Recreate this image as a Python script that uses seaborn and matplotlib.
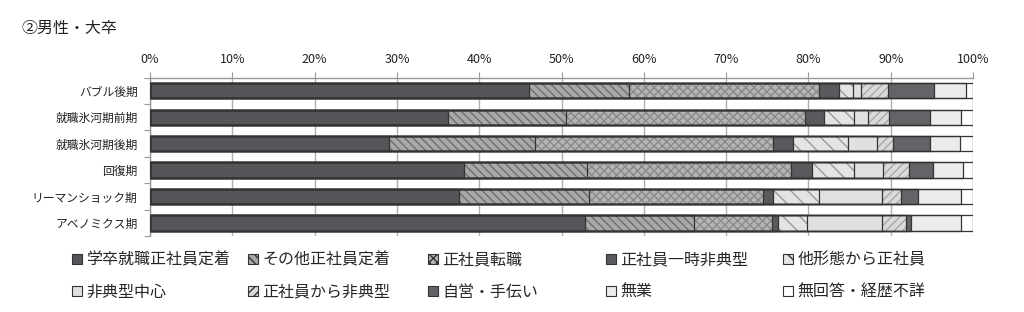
import matplotlib
matplotlib.use("Agg")
import matplotlib.pyplot as plt
import seaborn as sns
import numpy as np
import pandas as pd
from matplotlib.patches import Patch

periods = ["バブル後期", "就職氷河期前期", "就職氷河期後期", "回復期", "リーマンショック期", "アベノミクス期"]
series_names = ["学卒就職正社員定着", "その他正社員定着", "正社員転職", "正社員一時非典型", "他形態から正社員",
                "非典型中心", "正社員から非典型", "自営・手伝い", "無業", "無回答・経歴不詳"]

s_gakusotsu = [46.0, 36.2, 29.0, 38.2, 37.5, 52.9]
s_sonota = [12.2, 14.3, 17.8, 14.9, 15.9, 13.2]
s_tenshoku = [23.1, 29.1, 28.9, 24.8, 21.1, 9.5]
s_ichiji = [2.4, 2.3, 2.4, 2.5, 1.2, 0.7]
s_takeitai = [1.7, 3.6, 6.7, 5.2, 5.6, 3.5]
s_hitenkei = [1.0, 1.7, 3.5, 3.5, 7.7, 9.2]
s_seitohi = [3.3, 2.6, 2.0, 3.1, 2.3, 2.8]
s_jiei = [5.6, 5.0, 4.5, 3.0, 2.0, 0.7]
s_mugyo = [3.8, 3.7, 3.6, 3.6, 5.2, 6.1]
s_mukaito = [0.9, 1.5, 1.6, 1.2, 1.5, 1.4]

all_series = [s_gakusotsu, s_sonota, s_tenshoku, s_ichiji, s_takeitai,
              s_hitenkei, s_seitohi, s_jiei, s_mugyo, s_mukaito]

x_ticks = list(range(0, 101, 10))
x_ticklabels = [f"{t}%" for t in x_ticks]

styles = [
    dict(face="#56565a", hatch=None, hc="#56565a"),
    dict(face="#a8a8a8", hatch="\\\\\\\\", hc="#6e6e6e"),
    dict(face="#b4b4b4", hatch="xxxx", hc="#8a8a8a"),
    dict(face="#5a5a5e", hatch=None, hc="#5a5a5e"),
    dict(face="#e4e4e4", hatch="\\\\", hc="#9a9a9a"),
    dict(face="#e0e0e0", hatch=None, hc="#e0e0e0"),
    dict(face="#dadada", hatch="////", hc="#a8a8a8"),
    dict(face="#646468", hatch=None, hc="#646468"),
    dict(face="#ececec", hatch=None, hc="#ececec"),
    dict(face="#ffffff", hatch=None, hc="#ffffff"),
]

sns.set_theme(style="white")
plt.rcParams['font.family'] = ['Noto Sans CJK JP', 'DejaVu Sans']
plt.rcParams['hatch.linewidth'] = 1.0

fig = plt.figure(figsize=(10.24, 3.12), dpi=100)
ax = fig.add_axes([150 / 1024, 1 - 236.2 / 312, 823 / 1024, 158.7 / 312])

# cumulative totals for stacking
cums = np.cumsum(np.array(all_series), axis=0)
n = len(series_names)

# fills: widest cumulative first, narrower ones on top
for k in range(n - 1, -1, -1):
    st = styles[k]
    d = pd.DataFrame({"period": periods, "value": cums[k]})
    sns.barplot(data=d, y="period", x="value", orient="h", ax=ax,
                color=st["face"], saturation=1, width=0.58,
                edgecolor=st["hc"], linewidth=0, hatch=st["hatch"],
                zorder=3 + (n - k) * 0.01, errorbar=None)
# outlines: each cumulative bar's right edge is a segment boundary
for k in range(n - 1, -1, -1):
    d = pd.DataFrame({"period": periods, "value": cums[k]})
    sns.barplot(data=d, y="period", x="value", orient="h", ax=ax,
                facecolor="none", width=0.58,
                edgecolor="#333333", linewidth=0.9, zorder=4, errorbar=None)

ax.set_xlim(0, 100)
ax.set_ylim(5.5, -0.5)
ax.set_xlabel("")
ax.set_ylabel("")
ax.xaxis.tick_top()
ax.set_xticks(x_ticks)
ax.set_xticklabels(x_ticklabels, fontsize=9, color="#222222")
ax.tick_params(axis="x", top=True, bottom=False, length=4, width=0.8, color="#999999", pad=4)
ax.set_yticks(range(len(periods)))
ax.set_yticklabels(periods, fontsize=8.5, color="#222222")
ax.set_yticks(np.arange(-0.5, 5.6, 1.0), minor=True)
ax.tick_params(axis="y", which="major", length=0, pad=9)
ax.tick_params(axis="y", which="minor", left=True, length=4, width=0.8, color="#999999")
ax.grid(axis="x", color="#b0b0b0", linewidth=1.0, zorder=0)
ax.set_axisbelow(True)
for side in ["bottom", "right"]:
    ax.spines[side].set_visible(False)
for side in ["top", "left"]:
    ax.spines[side].set_color("#999999")
    ax.spines[side].set_linewidth(1.0)

fig.text(22 / 1024, 1 - 28 / 312, "②男性・大卒", fontsize=11.5, va="center", ha="left", color="#222222")

# Legend: five columns, each with two entries
col_x = [72, 248, 428, 606, 783]
for c in range(5):
    handles = []
    labels = []
    for i in (c, c + 5):
        st = styles[i]
        h = Patch(facecolor=st["face"], edgecolor=st["hc"], hatch=st["hatch"], linewidth=0)
        handles.append(h)
        labels.append(series_names[i])
    leg = fig.legend(handles, labels, loc="upper left",
                     bbox_to_anchor=(col_x[c] / 1024, 1 - 251.5 / 312),
                     frameon=False, fontsize=11.5, handlelength=0.6, handleheight=0.6,
                     handletextpad=0.3, labelspacing=0.95, borderpad=0, borderaxespad=0)
    for p in leg.get_patches():
        p.set_edgecolor("#333333")
        p.set_linewidth(0.8)

fig.savefig("out.png", dpi=100)
